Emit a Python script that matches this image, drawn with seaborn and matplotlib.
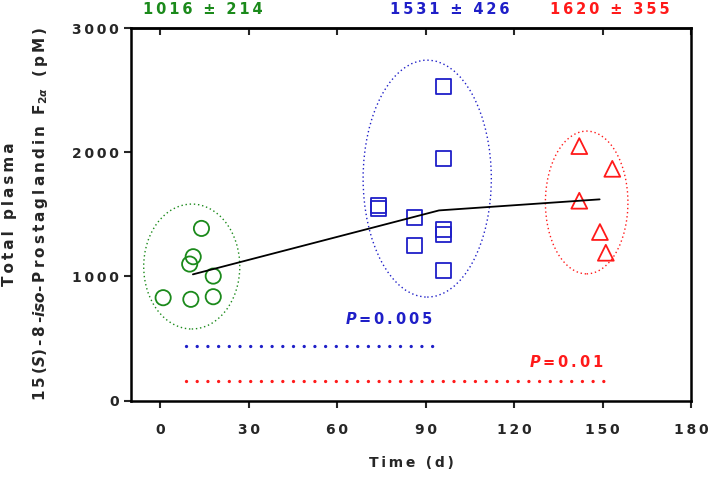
import numpy as np
import pandas as pd
import matplotlib
matplotlib.use("Agg")
import matplotlib.pyplot as plt
import seaborn as sns
from matplotlib.patches import Ellipse

# ==================== Data ==================== #
green_x = [13.9, 11.1, 9.9, 17.9, 0.9, 10.3, 17.9]
green_y = [1386, 1158, 1099, 1002, 828, 815, 836]

blue_x = [96.1, 96.1, 74.1, 74.1, 86.1, 86.1, 96.1, 96.1, 96.1]
blue_y = [2527, 1947, 1570, 1550, 1472, 1246, 1375, 1335, 1045]

red_x = [142.1, 153.3, 142.1, 149.1, 151.1]
red_y = [2049, 1866, 1609, 1357, 1190]

mean_x = [11.0, 94.5, 149.0]
mean_y = [1016, 1531, 1620]
group_text = ["1016 ± 214", "1531 ± 426", "1620 ± 355"]

p_text = ["=0.005", "=0.01"]
p_start = [8.7, 8.7]
p_end = [92.3, 150.4]
p_level = [441, 160]

x_ticks = [0, 30, 60, 90, 120, 150, 180]
y_ticks = [0, 1000, 2000, 3000]

GREEN = "#1b8a1b"
BLUE = "#1f1fc8"
RED = "#ff1a1a"
colors = [GREEN, BLUE, RED]

TS = "\u2009"


def spaced(s):
    """letter spacing like the original (GraphPad style)"""
    return TS.join(s)


# ==================== Plot ==================== #
sns.set_style("ticks")
plt.rcParams["font.family"] = ["DejaVu Sans"]
plt.rcParams["font.weight"] = "bold"

fig = plt.figure(figsize=(7.09, 4.78), dpi=100)
ax = fig.add_axes([0.1848, 0.1621, 0.7898, 0.7793])

ms = dict(facecolor="none", linewidth=1.3, zorder=3, legend=False)
sns.scatterplot(x=green_x, y=green_y, marker="o", s=120, edgecolor=GREEN, ax=ax, **ms)
sns.scatterplot(x=blue_x, y=blue_y, marker="s", s=115, edgecolor=BLUE, ax=ax, **ms)
sns.scatterplot(x=red_x, y=red_y, marker="^", s=130, edgecolor=RED, ax=ax, **ms)

sns.lineplot(x=mean_x, y=mean_y, color="black", linewidth=1.3, sort=False,
             estimator=None, ax=ax, zorder=4)

# dotted ellipses around the groups
ells = [((10.6, 1079), 32.6, 1006, GREEN),
        ((90.5, 1787), 43.5, 1908, BLUE),
        ((144.6, 1595), 28.0, 1150, RED)]
for c, w, h, col in ells:
    e = Ellipse(c, w, h, fill=False, edgecolor=col, linewidth=1.0,
                linestyle=(0, (1, 2)))
    ax.add_patch(e)

# group means above the plot
for mx, txt, col in zip(mean_x, group_text, colors):
    ax.text(mx + 3.5, 3152, spaced(txt), color=col, ha="center", va="center",
            fontsize=10.5, fontweight="bold", clip_on=False)

# P-value bars
for i, col in enumerate([BLUE, RED]):
    ax.plot([p_start[i], p_end[i]], [p_level[i], p_level[i]], color=col,
            linewidth=2.4, linestyle=(0, (0.01, 3.2)), dash_capstyle="round")
    ax.text(p_end[i], p_level[i] + (213 if i == 0 else 152),
            r"$\mathbfit{P}$" + TS + spaced(p_text[i]),
            color=col, ha="right", va="center", fontsize=10.5, fontweight="bold")

ax.set_xlim(-10, 180)
ax.set_ylim(0, 3000)
ax.set_xticks(x_ticks)
ax.set_xticklabels([spaced(str(t)) for t in x_ticks])
ax.set_yticks(y_ticks)
ax.set_yticklabels([spaced(str(t)) for t in y_ticks])
ax.tick_params(axis="both", direction="out", length=5, width=1.5,
               labelsize=10, pad=4)
ax.tick_params(axis="x", pad=11)

top = ax.secondary_xaxis("top")
top.set_xticks(x_ticks)
top.tick_params(direction="in", length=5, width=1.5, labeltop=False)
top.spines["top"].set_linewidth(1.8)

for side in ["left", "right", "top", "bottom"]:
    ax.spines[side].set_linewidth(1.8)
    ax.spines[side].set_color("black")

ax.set_xlabel(spaced("Time (d)"), fontsize=10, fontweight="bold", labelpad=14)

fig.text(10 / 709, 0.552, spaced("Total plasma"), rotation=90, ha="center",
         va="center", fontsize=11, fontweight="bold")
fig.text(41 / 709, 0.552,
         spaced("15(") + r"$\mathbfit{S}$" + spaced(")-8-") + r"$\mathbfit{iso}$"
         + spaced("-Prostaglandin F") + r"$_{\mathbf{2}\alpha}$" + TS + spaced(" (pM)"),
         rotation=90, ha="center", va="center", fontsize=11, fontweight="bold")

fig.savefig("out.png", dpi=100)
